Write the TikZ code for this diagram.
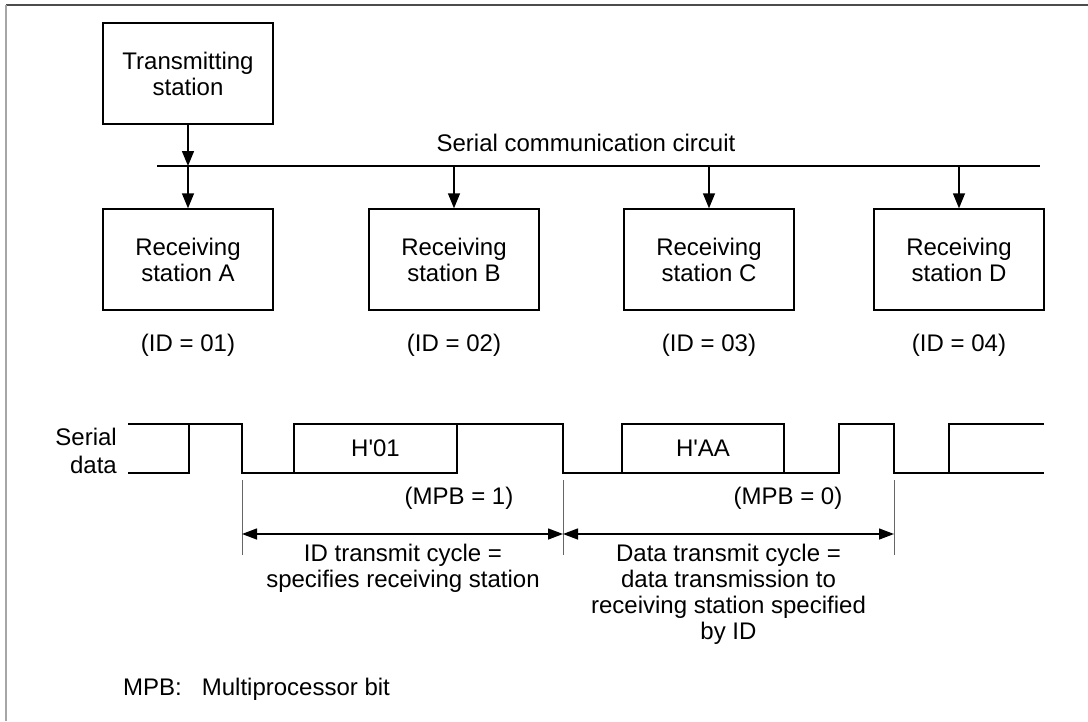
\documentclass[tikz,border=0pt]{standalone}
\usepackage{fontspec}
\setmainfont{Liberation Sans}
\usetikzlibrary{arrows.meta}
\begin{document}
\begin{tikzpicture}[x=1pt,y=-1pt,
  every node/.style={font=\fontsize{24}{26}\selectfont, inner sep=0pt},
  station/.style={draw, line width=1.4pt, minimum width=170pt, minimum height=101pt, align=center},
  lbl/.style={align=center},
  feed/.style={line width=1.4pt, -{Triangle[length=15pt,width=12pt]}},
  wave/.style={line width=1.4pt},
  dimline/.style={draw=black!60, line width=1pt},
  dimarrow/.style={line width=1.4pt, {Triangle[length=15pt,width=11pt]}-{Triangle[length=15pt,width=11pt]}}]
\useasboundingbox (0,0) rectangle (1088,721);
% frame
\draw[draw=black!70, line width=1.5pt] (6,5) -- (1088,5);
\draw[draw=black!35, line width=2pt] (6,5) -- (6,721);

% stations
\node[station] (tx) at (188,73.5) {Transmitting\\station};
\node[station] (ra) at (188,259.5) {Receiving\\station A};
\node[station] (rb) at (454,259.5) {Receiving\\station B};
\node[station] (rc) at (709,259.5) {Receiving\\station C};
\node[station] (rd) at (959,259.5) {Receiving\\station D};

% bus
\coordinate (busL) at (157,166);
\coordinate (busR) at (1040,166);
\draw[wave] (busL) -- (busR);
\node[lbl] (buslbl) at (586,143) {Serial communication circuit};
\coordinate (tap) at (tx.south |- busL);
\draw[feed] (tx.south) -- (tap);
\draw[feed] (tap) -- (ra.north);
\draw[feed] (rb.north |- busL) -- (rb.north);
\draw[feed] (rc.north |- busL) -- (rc.north);
\draw[feed] (rd.north |- busL) -- (rd.north);

% IDs
\node[lbl] (ida) at (188,345) {(ID = 01)};
\node[lbl] (idb) at (454,345) {(ID = 02)};
\node[lbl] (idc) at (709,345) {(ID = 03)};
\node[lbl] (idd) at (959,345) {(ID = 04)};

% serial data
\node[align=right, anchor=east, font=\fontsize{24}{28}\selectfont] (sd) at (117,451) {Serial\\data};
\draw[wave] (128,424) -- (242,424) -- (242,473) -- (294,473);
\draw[wave] (128,473) -- (189,473) -- (189,424);
\draw[wave] (294,473) -- (294,424) -- (563,424) -- (563,473) -- (839,473) -- (839,424) -- (894,424) -- (894,473) -- (1044,473);
\draw[wave] (294,473) -- (457,473) -- (457,424);
\draw[wave] (622,473) -- (622,424) -- (784,424) -- (784,473);
\draw[wave] (1044,424) -- (949,424) -- (949,473);
\node[lbl] (h01) at (375.5,448.5) {H\textquotesingle 01};
\node[lbl] (haa) at (703,448.5) {H\textquotesingle AA};
\node[lbl] (mpb1) at (459,498) {(MPB = 1)};
\node[lbl] (mpb0) at (788,498) {(MPB = 0)};

% dimension lines
\coordinate (d1t) at (242,480); \coordinate (d1b) at (242,555);
\coordinate (d2t) at (563,480); \coordinate (d2b) at (563,555);
\coordinate (d3t) at (894,480); \coordinate (d3b) at (894,555);
\draw[dimline] (d1t) -- (d1b);
\draw[dimline] (d2t) -- (d2b);
\draw[dimline] (d3t) -- (d3b);
\coordinate (a1) at (242,534); \coordinate (a2) at (563,534); \coordinate (a3) at (894,534);
\draw[dimarrow] (a1) -- (a2);
\draw[dimarrow] (a2) -- (a3);

\node[lbl, anchor=north] (idcyc) at (403,544) {ID transmit cycle =\\specifies receiving station};
\node[lbl, anchor=north] (datacyc) at (728.5,544) {Data transmit cycle =\\data transmission to\\receiving station specified\\by ID};

\node[anchor=west] (foot) at (123,689) {MPB:\hspace{20pt}Multiprocessor bit};
\end{tikzpicture}
\end{document}
